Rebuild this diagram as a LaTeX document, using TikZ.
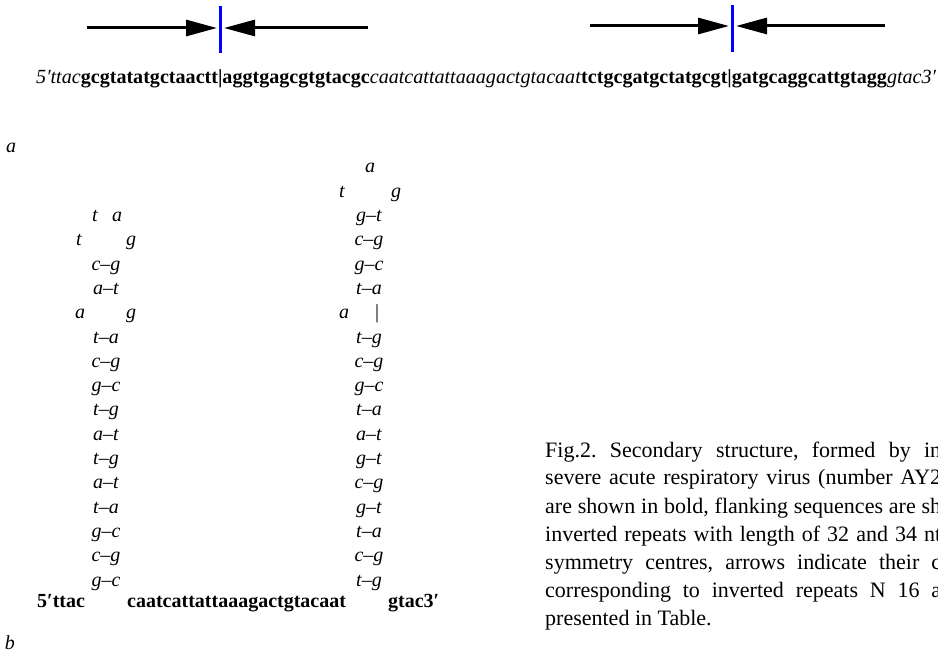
\documentclass[tikz,border=0pt]{standalone}
\usepackage{fontspec}
\setmainfont{Liberation Serif}
\usetikzlibrary{arrows.meta}
\frenchspacing

\begin{document}
\begin{tikzpicture}[x=1pt, y=-1pt,
    nt/.style={inner sep=0pt, anchor=base, font=\fontsize{20}{24}\selectfont\itshape},
    seqbold/.style={inner sep=0pt, anchor=base west, font=\fontsize{20}{24}\selectfont\bfseries},
    captionline/.style={inner sep=0pt, anchor=base west, font=\fontsize{22}{28}\selectfont},
    repeatarrow/.style={line width=3pt, -{Triangle[length=31pt, width=16pt]}},
    centreline/.style={blue, line width=3pt}]

\def\h{24.3}
\def\y{173}
\def\L{106}
\def\R{369}
\def\W{396pt}

\useasboundingbox (0,0) rectangle (938,652);
\clip (0,0) rectangle (938,652);

\coordinate (ctr1a) at (220,6);
\coordinate (ctr1b) at (220,53);
\coordinate (ctr2a) at (732,5);
\coordinate (ctr2b) at (732,52);
\coordinate (in1l) at (87,28);
\coordinate (in1r) at (368,28);
\coordinate (in2l) at (590,26);
\coordinate (in2r) at (885,26);

\draw[repeatarrow] (in1l) -- (217,28);
\draw[repeatarrow] (in1r) -- (224,28);
\draw[repeatarrow] (in2l) -- (729,26);
\draw[repeatarrow] (in2r) -- (736,26);
\draw[centreline] (ctr1a) -- (ctr1b);
\draw[centreline] (ctr2a) -- (ctr2b);

\node[inner sep=0pt, anchor=base west, font=\fontsize{20.1}{24}\selectfont] (seqtop) at (36,84)
    {\textit{5′ttac}\textbf{gcgtatatgctaactt|aggtgagcgtgtacgc}\textit{caatcattattaaagactgtacaat}\textbf{tctgcgatgctatgcgt|gatgcaggcattgtagg}\textit{gtac3′}};

\node[nt] (lbla) at (11,153) {a};
\node[nt] (lblb) at (10,649) {b};

\node[nt] (lt1) at (95,\y+2*\h) {t};
\node[nt] (la1) at (117,\y+2*\h) {a};
\node[nt] (lt2) at (79,\y+3*\h) {t};
\node[nt] (lg2) at (131,\y+3*\h) {g};
\node[nt] (lp4) at (\L,\y+4*\h) {c--g};
\node[nt] (lp5) at (\L,\y+5*\h) {a--t};
\node[nt] (la6) at (80,\y+6*\h) {a};
\node[nt] (lg6) at (131,\y+6*\h) {g};
\foreach \p [count=\i from 7] in {t--a, c--g, g--c, t--g, a--t, t--g, a--t, t--a, g--c, c--g, g--c}
    \node[nt] (lp\i) at (\L,\y+\i*\h) {\p};

\node[nt] (ra0) at (370,\y) {a};
\node[nt] (rt1) at (342,\y+\h) {t};
\node[nt] (rg1) at (396,\y+\h) {g};
\foreach \p [count=\i from 2] in {g--t, c--g, g--c, t--a}
    \node[nt] (rp\i) at (\R,\y+\i*\h) {\p};
\node[nt] (ra6) at (344,\y+6*\h) {a};
\node[nt, font=\fontsize{20}{24}\selectfont] (rbar6) at (377,\y+6*\h) {|};
\foreach \p [count=\i from 7] in {t--g, c--g, g--c, t--a, a--t, g--t, c--g, g--t, t--a, c--g, t--g}
    \node[nt] (rp\i) at (\R,\y+\i*\h) {\p};

\node[seqbold] (flank5) at (37,607) {5′ttac};
\node[seqbold] (loopseq) at (127,607) {caatcattattaaagactgtacaat};
\node[seqbold] (flank3) at (388,607) {gtac3′};

\node[captionline] (cap1) at (545,457) {\makebox[\W][s]{Fig.2. Secondary structure, formed by in}};
\node[captionline] (cap2) at (545,485) {\makebox[\W][s]{severe acute respiratory virus (number AY2}};
\node[captionline] (cap3) at (545,513) {\makebox[\W][s]{are shown in bold, flanking sequences are sh}};
\node[captionline] (cap4) at (545,541) {\makebox[\W][s]{inverted repeats with length of 32 and 34 nt}};
\node[captionline] (cap5) at (545,569) {\makebox[\W][s]{symmetry centres, arrows indicate their c}};
\node[captionline] (cap6) at (545,597) {\makebox[\W][s]{corresponding to inverted repeats N 16 a}};
\node[captionline] (cap7) at (545,625) {presented in Table.};

\end{tikzpicture}
\end{document}
